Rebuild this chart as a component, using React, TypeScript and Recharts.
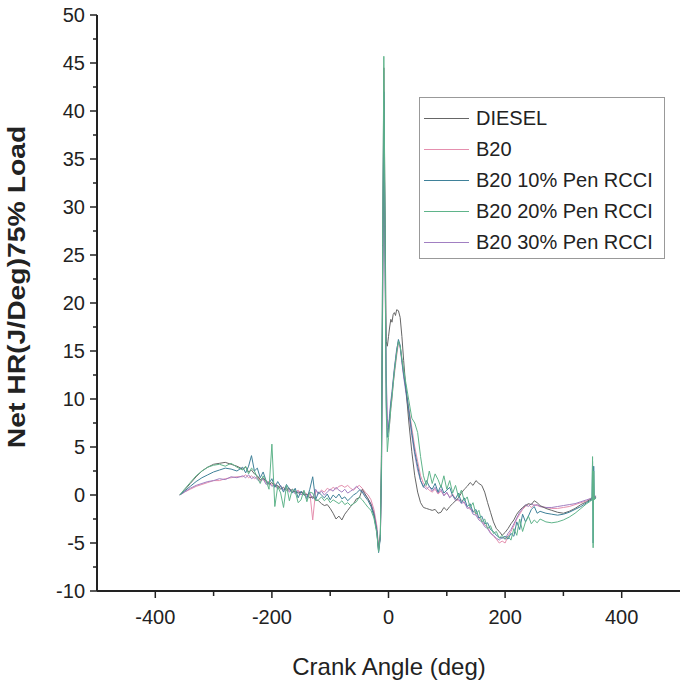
import { LineChart, Line, XAxis, YAxis } from 'recharts';

// crank angle grid (deg)
const angles = [
  -358, -350, -340, -330, -320, -310, -300, -290, -280, -270, -260, -250,
  -245, -240, -235, -230, -225, -220, -215, -210, -205, -200, -195, -190, -185, -180, -175, -170, -165, -160,
  -155, -150, -145, -140, -135, -130, -125, -120, -115, -110, -105, -100,
  -95, -90, -85, -80, -75, -70, -65, -60, -55, -50, -45, -40, -35, -30, -25, -20,
  -17, -14, -12, -10, -8, -6, -4, -2, 0,
  2, 4, 6, 8, 10, 12, 14, 17, 20, 23, 26,
  30, 35, 40, 45, 50, 55, 60, 65, 70, 75, 80, 85, 90, 95, 100, 105, 110, 115, 120, 125, 130, 135, 140, 145,
  150, 155, 160, 165, 170, 175, 180, 185, 190, 195, 200, 205, 210, 215, 220, 225, 230, 235, 240, 245, 250, 255, 260,
  270, 280, 290, 300, 310, 320, 330, 340, 345, 349, 350, 351, 352, 353, 356,
];

const diesel = [
  0, 0.5, 1.2, 1.9, 2.5, 2.9, 3.2, 3.3, 3.4, 3.2, 3.0, 2.7,
  2.9, 2.4, 2.6, 2.2, 2.0, 1.6, 1.8, 1.4, 1.1, 1.3, 0.9, 1.0, 0.6, 0.8, 0.5, 0.7, 0.3, 0.4,
  0.2, 0.3, 0.0, 0.1, -0.3, -0.2, -0.5, -0.6, -0.9, -1.1, -1.0, -1.4,
  -1.9, -2.5, -2.2, -2.6, -2.0, -1.6, -1.2, -0.9, -0.4, -0.3, 0.6, 0.1, -0.4, -1.0, -2.0, -3.8,
  -5.8, -4.0, 5, 25, 44.5, 30, 16, 15.5, 16.5,
  17.5, 18.3, 18.0, 18.8, 19.0, 18.7, 19.3, 19.2, 18.5, 16.5, 14.0,
  11.0, 7.5, 4.5, 2.0, 0.3, -0.8, -1.3, -1.4, -1.5, -1.6, -1.5, -1.9, -1.8, -1.3, -1.6, -1.2, -0.9, -0.6, -0.3, 0.2, 0.6, 0.9, 1.3, 1.0,
  1.5, 1.2, 1.0, 0.3, -0.8, -1.8, -2.8, -3.5, -3.8, -4.2, -3.9, -3.5, -3.0, -2.6, -2.0, -1.6, -1.3, -1.1, -0.9, -1.0, -0.6, -0.8, -1.1,
  -1.4, -1.6, -1.8, -1.9, -1.7, -1.4, -1.0, -0.7, -0.5, -0.4, -0.4, -0.3, -0.3, -0.3, -0.2,
];

const b20 = [
  0, 0.3, 0.6, 0.9, 1.1, 1.3, 1.5, 1.5, 1.7, 1.8, 1.9, 1.9,
  2.1, 1.8, 2.0, 1.7, 1.9, 1.5, 1.6, 1.3, 1.4, 1.0, 1.2, 0.8, 0.9, 0.6, 0.8, 0.4, 0.6, 0.3,
  0.5, 0.2, 0.4, 0.0, 0.3, -2.6, 0.4, 0.2, 0.5, 0.3, 0.7, 0.5,
  0.8, 0.6, 0.9, 1.0, 0.8, 1.0, 0.7, 0.5, 0.8, 1.0, 0.7, 0.3, 0.0, -0.5, -1.5, -3.2,
  -5.5, -4.5, 2, 20, 38, 24, 12, 7, 6.5,
  7.5, 9, 10, 11.5, 12.5, 13.5, 14.5, 15.8, 15.5, 14.0, 12.5,
  11.0, 9.0, 7.0, 5.0, 3.5, 2.0, 1.2, 0.8, 0.5, 0.3, 0.6, 0.1, 0.4, 0.0, 0.2, -0.2, 0.1, -0.4, -0.6, -0.5, -0.9, -1.2, -1.5, -1.6,
  -2.0, -2.4, -2.7, -3.1, -3.4, -3.9, -4.3, -4.6, -5.0, -4.8, -5.0, -4.3, -3.8, -3.2, -2.5, -2.0, -1.5, -1.2, -1.0, -1.3, -1.0, -1.1, -1.2,
  -1.3, -1.4, -1.4, -1.3, -1.2, -1.0, -0.8, -0.6, -0.4, -0.3, -0.3, -0.3, -0.2, -0.2, -0.1,
];

const pen10 = [
  0, 0.4, 0.9, 1.4, 1.8, 2.1, 2.4, 2.6, 2.8, 2.7, 2.5, 2.9,
  2.3, 3.0, 4.1, 2.5, 2.8, 1.8, 2.4, 1.5, 1.2, 1.7, 0.8, 1.4, 0.9, 0.3, 1.1, 0.6, 0.2, 0.7,
  -0.3, 0.4, 0.1, -0.4, 0.6, 1.9, -0.5, 0.3, 0.0, -0.3, 0.1, -0.5,
  0.0, -0.3, 0.1, -0.4, -0.2, -0.6, -0.3, 0.0, 0.2, 0.5, 0.3, -0.2, -0.6, -1.2, -2.2, -3.8,
  -6.0, -4.5, 3, 22, 42, 26, 10, 6, 7,
  8, 9.5, 10.5, 11.8, 13, 14, 15, 16.2, 15.6, 14.0, 12.6,
  11.0, 8.8, 6.5, 4.5, 3.0, 1.5, 0.8, 1.5, 0.9, 0.6, 1.2, 0.3, 1.0, 0.2, 0.5, 0.8, -0.1, -0.4, 0.2, -0.8, -0.3, -1.2, -0.9, -1.8,
  -1.5, -2.4, -2.2, -3.0, -2.9, -3.6, -3.8, -4.2, -4.4, -4.5, -4.3, -4.6, -4.0, -4.3, -2.8, -3.6, -2.0, -2.8, -2.2, -1.5, -1.2, -1.9, -1.7,
  -1.9, -2.0, -2.1, -2.0, -1.8, -1.5, -1.2, -0.8, -0.6, -0.5, 3.5, -5.0, 3.0, -0.4, -0.3,
];

const pen20 = [
  0, 0.6, 1.3, 2.0, 2.5, 2.9, 3.1, 3.2, 3.0, 3.3, 2.9, 2.6,
  3.0, 2.2, 2.8, 2.5, 1.8, 1.2, 2.0, 1.5, 0.6, 5.3, -1.2, 0.9, 0.2, -1.3, 1.0, -0.6, 0.6, 0.4,
  -0.8, -0.5, 0.5, -0.7, 0.3, 0.2, -0.6, -0.5, -0.2, -0.6, -0.3, -0.8,
  -0.5, -0.7, -0.9, -0.6, -1.0, -0.8, -1.1, -0.9, -0.7, -0.2, -0.5, -0.9, -1.3, -1.6, -2.4, -4.0,
  -5.9, -4.2, 4, 26, 45.7, 28, 9, 4.5, 6,
  7.5, 9, 10.2, 11.5, 12.8, 13.8, 14.8, 16.0, 15.5, 14.2, 13.0,
  11.6, 9.8, 8.0, 7.5, 6.5, 4.0, 2.0, 1.0, 2.5, 1.2, 2.2, 1.6, 0.8, 2.0, 0.6, 1.5, 0.2, 1.0, -0.2, 0.5, -0.6, -0.2, -1.3, -0.8,
  -2.0, -1.6, -2.8, -2.5, -3.5, -3.2, -4.0, -3.8, -4.5, -4.2, -4.6, -4.3, -4.7, -3.5, -4.2, -2.5, -3.8, -2.8, -2.2, -3.0, -2.6, -2.9, -2.5,
  -2.8, -2.9, -2.8, -2.6, -2.3, -1.9, -1.4, -0.9, -0.7, -0.5, 4.0, -5.5, 2.5, -0.5, -0.3,
];

const pen30 = [
  0, 0.3, 0.7, 1.0, 1.2, 1.4, 1.5, 1.7, 1.6, 1.9, 1.8, 2.0,
  1.8, 2.1, 1.7, 1.9, 1.6, 1.4, 1.7, 1.1, 1.3, 0.9, 1.1, 0.6, 1.0, 0.5, 0.7, 0.3, 0.6, 0.1,
  0.4, 0.0, 0.3, -0.2, 0.2, -0.4, 0.6, 0.1, 0.4, 0.0, 0.3, 0.6,
  0.4, 0.8, 0.5, 0.3, 0.6, 0.2, 0.4, 0.6, 0.9, 0.6, 0.4, 0.0, -0.4, -0.9, -1.8, -3.5,
  -5.6, -4.4, 2.5, 21, 41, 27, 13, 8, 7,
  8.5, 9.8, 10.8, 12, 13.2, 14.2, 15.2, 16.0, 15.4, 13.8, 12.3,
  10.6, 8.4, 6.2, 4.2, 2.6, 1.5, 0.9, 0.6, 0.9, 0.4, 0.8, 0.2, 0.6, -0.1, 0.3, -0.3, 0.0, -0.6, -0.4, -0.9, -0.7, -1.4, -1.3, -2.0,
  -2.1, -2.6, -2.8, -3.3, -3.5, -4.0, -4.2, -4.5, -4.7, -4.4, -4.6, -4.0, -3.6, -3.0, -2.4, -1.8, -1.4, -1.0, -1.2, -0.9, -1.1, -1.0, -1.2,
  -1.3, -1.3, -1.2, -1.1, -1.0, -0.9, -0.7, -0.5, -0.4, -0.3, -0.3, -0.3, -0.2, -0.2, -0.1,
];

const xTicks = [-400, -300, -200, -100, 0, 100, 200, 300, 400];
const yTicks = [-10, -7.5, -5, -2.5, 0, 2.5, 5, 7.5, 10, 12.5, 15, 17.5, 20, 22.5, 25, 27.5, 30, 32.5, 35, 37.5, 40, 42.5, 45, 47.5, 50];

const series = [
  { key: 'diesel', name: 'DIESEL', color: '#666666', values: diesel },
  { key: 'b20', name: 'B20', color: '#e58fae', values: b20 },
  { key: 'pen10', name: 'B20 10% Pen RCCI', color: '#3f8199', values: pen10 },
  { key: 'pen20', name: 'B20 20% Pen RCCI', color: '#5fb48a', values: pen20 },
  { key: 'pen30', name: 'B20 30% Pen RCCI', color: '#a17fc2', values: pen30 },
];

// draw order: DIESEL over the pink/purple, greens on top
const drawOrder = ['b20', 'pen30', 'diesel', 'pen10', 'pen20'];

const data = angles.map((a, i) => {
  const row: Record<string, number> = { angle: a };
  series.forEach((s) => { row[s.key] = s.values[i]; });
  return row;
});

const font = '"Liberation Sans", Arial, sans-serif';
const ink = '#222';

const XTick = (props: any) => {
  const { x, y, payload } = props;
  const major = payload.value % 200 === 0;
  return (
    <g>
      <line x1={x} x2={x} y1={y} y2={y + (major ? 7 : 5)} stroke={ink} strokeWidth={1.5} />
      {major && (
        <text x={x} y={y + 33} textAnchor="middle" fontSize={20} fontFamily={font} fill={ink}>
          {payload.value}
        </text>
      )}
    </g>
  );
};

const YTick = (props: any) => {
  const { x, y, payload } = props;
  const major = payload.value % 5 === 0;
  return (
    <g>
      <line x1={x} x2={x - (major ? 7 : 4)} y1={y} y2={y} stroke={ink} strokeWidth={1.5} />
      {major && (
        <text x={x - 12} y={y + 7} textAnchor="end" fontSize={20} fontFamily={font} fill={ink}>
          {payload.value}
        </text>
      )}
    </g>
  );
};

export default function App() {
  return (
    <div style={{ position: 'absolute', left: 0, top: 0, width: 685, height: 687, background: '#fff', fontFamily: font }}>
      <LineChart width={685} height={687} data={data} margin={{ top: 15, right: 5, bottom: 56, left: 37 }}>
        <XAxis
          dataKey="angle"
          type="number"
          domain={[-500, 500]}
          ticks={xTicks}
          interval={0}
          height={40}
          tickSize={0}
          tickMargin={0}
          tickLine={false}
          axisLine={{ stroke: ink, strokeWidth: 2 }}
          tick={<XTick />}
        />
        <YAxis
          type="number"
          domain={[-10, 50]}
          ticks={yTicks}
          interval={0}
          width={60}
          tickSize={0}
          tickMargin={0}
          tickLine={false}
          axisLine={{ stroke: ink, strokeWidth: 2 }}
          tick={<YTick />}
        />
        {drawOrder.map((k) => {
          const s = series.find((d) => d.key === k)!;
          return (
            <Line
              key={s.key}
              type="linear"
              dataKey={s.key}
              name={s.name}
              stroke={s.color}
              strokeWidth={1}
              dot={false}
              isAnimationActive={false}
            />
          );
        })}
      </LineChart>

      {/* legend */}
      <div style={{ position: 'absolute', left: 419, top: 97, width: 246, height: 162, border: '1px solid #999', boxSizing: 'border-box' }}>
        {series.map((s, i) => (
          <div key={s.key} style={{ position: 'absolute', left: 0, top: 20 + 31 * i - 12, height: 24, width: 244 }}>
            <div style={{ position: 'absolute', left: 4, top: 12, width: 45, borderTop: `1.5px solid ${s.color}` }} />
            <div style={{ position: 'absolute', left: 56, top: 0, fontSize: 20, lineHeight: '24px', color: ink, whiteSpace: 'nowrap' }}>
              {s.name}
            </div>
          </div>
        ))}
      </div>

      {/* axis titles */}
      <div style={{ position: 'absolute', left: 389, top: 667, transform: 'translate(-50%, -50%)', fontSize: 24, color: ink, whiteSpace: 'nowrap' }}>
        Crank Angle (deg)
      </div>
      <div
        style={{
          position: 'absolute',
          left: 17,
          top: 287,
          transform: 'translate(-50%, -50%) rotate(-90deg) scaleX(1.18)',
          fontSize: 24,
          fontWeight: 'bold',
          color: ink,
          whiteSpace: 'nowrap',
        }}
      >
        Net HR(J/Deg)75% Load
      </div>
    </div>
  );
}
